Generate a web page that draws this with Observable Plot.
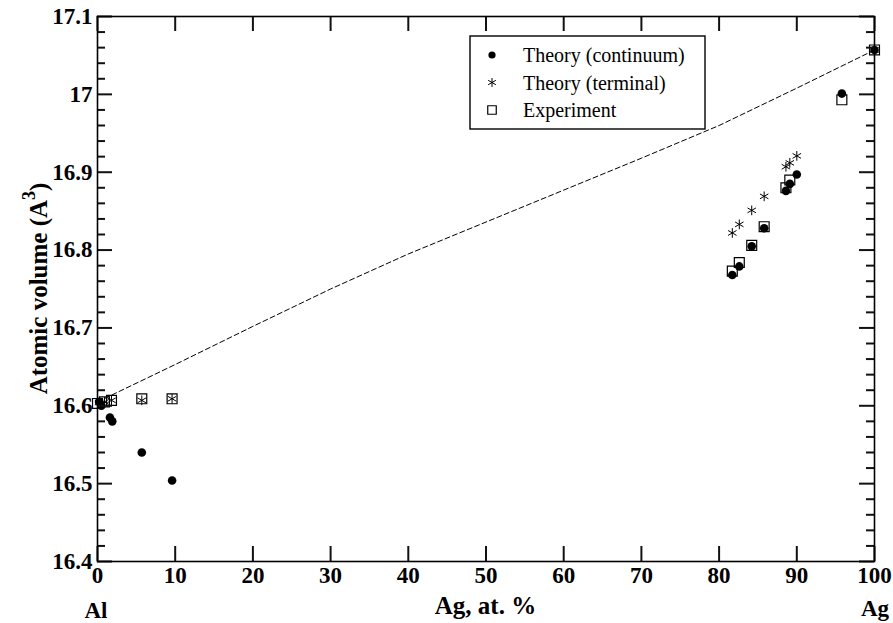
<!DOCTYPE html>
<html><head><meta charset="utf-8">
<script src="https://cdn.jsdelivr.net/npm/d3@7"></script>
<script src="https://cdn.jsdelivr.net/npm/@observablehq/plot@0.6"></script>
<style>
html,body{margin:0;padding:0;background:#fff;}
#chart{width:893px;height:623px;}
</style></head><body><div id="chart"></div>
<script>
// ---- data ----
const continuumX = [0.2, 0.5, 1.6, 1.9, 5.7, 9.6, 81.7, 82.6, 84.2, 85.8, 88.6, 89.1, 90.0, 95.8, 100];
const continuumY = [16.605, 16.600, 16.585, 16.580, 16.540, 16.504, 16.768, 16.779, 16.805, 16.828, 16.876, 16.885, 16.897, 17.001, 17.057];

const terminalX = [0.2, 0.9, 1.8, 5.7, 9.6, 81.7, 82.6, 84.2, 85.8, 88.6, 89.1, 90.0, 100];
const terminalY = [16.604, 16.605, 16.607, 16.607, 16.609, 16.822, 16.833, 16.851, 16.869, 16.907, 16.912, 16.921, 17.057];

const experimentX = [0, 0.9, 1.8, 5.7, 9.6, 81.7, 82.6, 84.2, 85.8, 88.6, 89.1, 95.8, 100];
const experimentY = [16.603, 16.605, 16.607, 16.609, 16.609, 16.773, 16.784, 16.806, 16.830, 16.880, 16.890, 16.993, 17.057];

const vegardX = [0, 10, 20, 30, 40, 50, 60, 70, 80, 90, 100];
const vegardY = [16.605, 16.653, 16.702, 16.750, 16.795, 16.836, 16.877, 16.918, 16.960, 17.008, 17.057];

const xTicks = [0, 10, 20, 30, 40, 50, 60, 70, 80, 90, 100];
const yMajorTicks = [16.4, 16.5, 16.6, 16.7, 16.8, 16.9, 17.0, 17.1];
const yMinorTicks = [16.42, 16.44, 16.46, 16.48, 16.52, 16.54, 16.56, 16.58, 16.62, 16.64, 16.66, 16.68,
  16.72, 16.74, 16.76, 16.78, 16.82, 16.84, 16.86, 16.88, 16.92, 16.94, 16.96, 16.98, 17.02, 17.04, 17.06, 17.08];

const legendLabels = ["Theory (continuum)", "Theory (terminal)", "Experiment"];
const xLabel = "Ag, at. %";
const yLabel = "Atomic volume (A";
const endLabels = ["Al", "Ag"];

const zip = (xs, ys) => xs.map((x, i) => ({x, y: ys[i]}));
const continuum = zip(continuumX, continuumY);
const terminal = zip(terminalX, terminalY);
const experiment = zip(experimentX, experimentY);
const vegard = zip(vegardX, vegardY);

const serif = "Liberation Serif, Times New Roman, DejaVu Serif, serif";

const ML = 97, MR = 19, MT = 16, MB = 62, W = 893, H = 623;
const PW = W - ML - MR, PH = H - MT - MB;
const MAJ = 15, MIN = 8;
const TW = 2;

const plot = Plot.plot({
  width: W, height: H,
  marginLeft: ML, marginRight: MR, marginTop: MT, marginBottom: MB,
  x: {domain: [0, 100]},
  y: {domain: [16.4, 17.1]},
  marks: [
    Plot.line(vegard, {x: "x", y: "y", stroke: "black", strokeWidth: 1, strokeDasharray: "5,3"}),
    Plot.dot(experiment, {x: "x", y: "y", symbol: "square", r: 5.6, stroke: "black", strokeWidth: 1.2, fill: "none"}),
    Plot.dot(continuum, {x: "x", y: "y", symbol: "circle", r: 4.3, fill: "black", stroke: "none"}),
    Plot.dot(terminal, {x: "x", y: "y", symbol: "asterisk", r: 4.6, stroke: "black", strokeWidth: 1}),
    // inward ticks on all four sides
    Plot.tickX(xTicks, {x: d => d, insetTop: PH - MAJ, stroke: "#111", strokeWidth: TW}),
    Plot.tickX(xTicks, {x: d => d, insetBottom: PH - MAJ, stroke: "#111", strokeWidth: TW}),
    Plot.tickY(yMajorTicks, {y: d => d, insetRight: PW - MAJ, stroke: "#111", strokeWidth: TW}),
    Plot.tickY(yMinorTicks, {y: d => d, insetRight: PW - MIN, stroke: "#111", strokeWidth: TW}),
    Plot.tickY(yMajorTicks, {y: d => d, insetLeft: PW - MAJ, stroke: "#111", strokeWidth: TW}),
    Plot.tickY(yMinorTicks, {y: d => d, insetLeft: PW - MIN, stroke: "#111", strokeWidth: TW}),
    // tick labels
    Plot.axisX({anchor: "bottom", ticks: xTicks, tickSize: 0, tickPadding: 5, tickFormat: d => String(d), label: null,
      fontSize: 23, fontWeight: "bold", fontFamily: serif, fill: "black"}),
    Plot.axisY({anchor: "left", ticks: yMajorTicks, tickSize: 0, tickPadding: 5, tickFormat: d => String(+d.toFixed(1)), label: null,
      fontSize: 23, fontWeight: "bold", fontFamily: serif, fill: "black"}),
    Plot.frame({stroke: "black", strokeWidth: 1.6})
  ]
});
document.getElementById("chart").appendChild(plot);

const svg = d3.select(plot);
svg.style("background", "white");
const sx = plot.scale("x"), sy = plot.scale("y");
const X = v => sx.apply(v), Y = v => sy.apply(v);
const x0 = X(0), x1 = X(100), y0 = Y(16.4), y1 = Y(17.1);

// ---- labels ----
const cx = (x0 + x1) / 2, cy = (y0 + y1) / 2;
const bold = sel => sel.attr("font-family", serif).attr("font-weight", "bold").attr("fill", "black");
bold(svg.append("text")).attr("x", cx).attr("y", 614).attr("text-anchor", "middle")
  .attr("font-size", 25).text(xLabel);
bold(svg.append("text")).attr("x", x0 - 1).attr("y", 618).attr("text-anchor", "middle")
  .attr("font-size", 23).text(endLabels[0]);
bold(svg.append("text")).attr("x", x1 + 1).attr("y", 616).attr("text-anchor", "middle")
  .attr("font-size", 23).text(endLabels[1]);

const yl = bold(svg.append("text")).attr("transform", `translate(47,${cy}) rotate(-90)`).attr("text-anchor", "middle")
  .attr("font-size", 25);
yl.append("tspan").text(yLabel);
yl.append("tspan").attr("dy", -12).attr("font-size", 18).text("3");
yl.append("tspan").attr("dy", 12).text(")");

// ---- legend ----
const lg = svg.append("g");
lg.append("rect").attr("x", 470).attr("y", 36).attr("width", 235).attr("height", 93)
  .attr("fill", "white").attr("stroke", "black").attr("stroke-width", 1.4);
const syms = [
  {type: d3.symbolCircle, r: 3.6, fill: "black", stroke: "none", sw: 0},
  {type: d3.symbolAsterisk, r: 4.2, fill: "none", stroke: "black", sw: 1},
  {type: d3.symbolSquare, r: 4.8, fill: "none", stroke: "black", sw: 1.2}
];
legendLabels.forEach((lab, i) => {
  const yy = 55 + i * 27.5;
  const s = syms[i];
  lg.append("path").attr("transform", `translate(492,${yy})`)
    .attr("d", d3.symbol(s.type, Math.PI * s.r * s.r)())
    .attr("fill", s.fill).attr("stroke", s.stroke).attr("stroke-width", s.sw);
  lg.append("text").attr("x", 523).attr("y", yy).attr("dy", "0.35em")
    .attr("font-family", serif).attr("font-weight", "normal").attr("text-anchor", "start")
    .attr("fill", "black").attr("font-size", 20).text(lab);
});
</script>
</body></html>
